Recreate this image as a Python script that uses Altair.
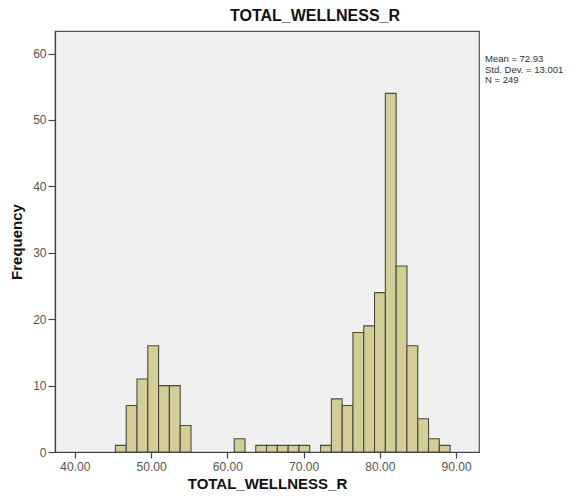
import altair as alt
import pandas as pd

# Histogram bins (lower edges of non-empty bins) and their frequencies
bin_width = 1.416
bin_lower = [45.32, 46.74, 48.15, 49.57, 50.98, 52.40, 53.82,
             60.90,
             63.73, 65.14, 66.56, 67.98, 69.39,
             72.22, 73.64, 75.06, 76.47, 77.89, 79.30, 80.72, 82.14,
             83.55, 84.97, 86.38, 87.80]
counts = [1, 7, 11, 16, 10, 10, 4,
          2,
          1, 1, 1, 1, 1,
          1, 8, 7, 18, 19, 24, 54, 28, 16, 5, 2, 1]

x_ticks = [40, 50, 60, 70, 80, 90]
y_ticks = [0, 10, 20, 30, 40, 50, 60]
stats_lines = ["Mean = 72.93", "Std. Dev. = 13.001", "N = 249"]

df = pd.DataFrame({
    "lo": bin_lower,
    "hi": [v + bin_width for v in bin_lower],
    "count": counts,
})

FONT = "Liberation Sans"

bars = alt.Chart(df).mark_rect(
    fill="#D3CE97", stroke="#4A4A40", strokeWidth=1.1, opacity=1
).encode(
    x=alt.X("lo:Q",
            scale=alt.Scale(domain=[37.4, 93.0], nice=False, zero=False),
            axis=alt.Axis(values=x_ticks, format=".2f", title="TOTAL_WELLNESS_R",
                          grid=False, tickSize=6, labelPadding=3,
                          titlePadding=4)),
    x2="hi:Q",
    y=alt.Y("count:Q",
            scale=alt.Scale(domain=[0, 63.4], nice=False),
            axis=alt.Axis(values=y_ticks, format="d", title="Frequency",
                          grid=False, tickSize=7, labelPadding=2,
                          titlePadding=8)),
    y2=alt.datum(0),
)

stats = alt.Chart(pd.DataFrame({"t": ["\n".join(stats_lines)]})).mark_text(
    align="left", baseline="top", lineBreak="\n", fontSize=9.5, lineHeight=10.5,
    font=FONT, color="#333333"
).encode(
    x=alt.value(430),
    y=alt.value(23),
    text="t:N",
)

chart = alt.layer(bars, stats).properties(
    width=424,
    height=421,
    autosize=alt.AutoSizeParams(type="none"),
    padding={"left": 47, "top": 23, "right": 92, "bottom": 40},
    title=alt.TitleParams("TOTAL_WELLNESS_R", fontSize=16, fontWeight="bold",
                          font=FONT, color="#111111", dx=48, offset=7),
    background="white",
).configure_view(
    fill="#F0F0F0", stroke="#555555", strokeWidth=1.2
).configure_axis(
    labelFont=FONT, labelFontSize=12, labelColor="#555555",
    titleFont=FONT, titleFontSize=15, titleFontWeight="bold", titleColor="#111111",
    domainColor="#444444", tickColor="#444444", domainWidth=1.2, tickWidth=1.2,
)

chart.save("out.html", embed_options={"renderer": "svg", "actions": False})
